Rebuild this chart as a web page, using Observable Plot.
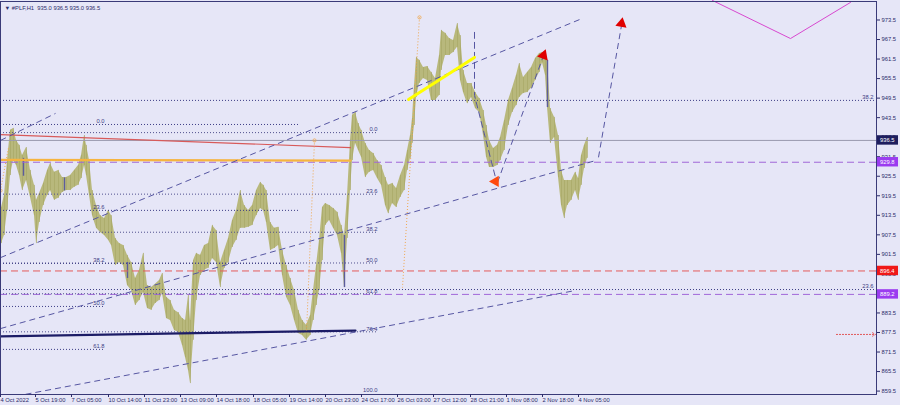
<!DOCTYPE html>
<html><head><meta charset="utf-8">
<script src="https://cdn.jsdelivr.net/npm/d3@7"></script>
<script src="https://cdn.jsdelivr.net/npm/@observablehq/plot@0.6"></script>
<style>
body{margin:0;background:#e6e6f7;}
#chart{width:900px;height:405px;overflow:hidden;}
</style></head><body><div id="chart"></div>
<script>
// ---- data (bar index, high, low) ----
const priceBars = [
[1,915.9,904.8],[4,919.6,907.3],[7,930.3,915.0],[10,939.6,925.7],[13,940.2,930.3],[16,936.5,928.8],[19,935.0,925.7],[22,931.9,921.1],[26,934.3,924.2],[30,927.3,919.0],
[34,922.7,913.4],[36,918.1,904.8],[39,920.2,911.3],[43,923.3,916.5],[47,927.3,919.6],[50,929.4,921.1],[54,926.7,918.1],[58,927.3,918.7],[62,925.1,920.5],[66,925.1,921.1],
[70,925.7,921.1],[74,927.3,922.1],[78,928.8,922.7],[81,931.9,924.8],[84,938.0,928.8],[86,935.0,925.7],[89,930.3,919.6],[92,921.1,913.4],[96,916.5,909.5],[100,913.4,908.2],
[104,912.5,907.3],[108,915.0,905.8],[111,913.4,904.2],[115,906.4,898.1],[119,904.8,899.0],[123,904.2,898.1],[127,901.2,891.9],[131,899.0,890.4],[135,894.1,885.8],[139,896.6,887.3],
[143,901.8,889.8],[147,891.9,884.9],[151,891.3,884.3],[155,892.3,886.4],[159,893.5,887.3],[162,895.6,889.5],[166,888.3,881.8],[170,887.3,881.2],[174,884.3,878.1],[178,883.6,877.5],
[182,881.8,873.5],[185,881.2,869.8],[188,888.9,865.8],[190,881.2,861.8],[193,899.6,875.1],[196,901.8,887.3],[200,901.2,895.0],[204,904.2,896.6],[208,904.8,897.2],[212,910.4,900.2],
[216,908.8,899.0],[220,899.0,891.3],[224,902.7,897.2],[228,906.4,899.0],[232,911.9,903.6],[236,915.0,905.8],[240,921.1,909.5],[244,916.5,909.5],[248,915.0,909.8],[252,916.5,910.4],
[256,921.1,913.4],[260,923.6,915.6],[263,922.7,915.0],[266,921.1,911.3],[270,911.3,902.7],[274,909.5,903.3],[278,909.8,904.2],[282,902.7,895.0],[286,898.1,888.3],[290,894.1,885.8],
[294,890.4,881.2],[298,884.3,877.2],[302,881.2,876.6],[306,879.7,875.1],[310,882.7,876.6],[313,890.4,881.2],[316,898.1,885.8],[319,905.8,890.4],[322,915.9,899.6],[325,917.1,910.4],
[329,916.5,911.9],[333,915.6,909.5],[337,914.4,907.3],[341,910.4,901.8],[344,907.3,891.3],[347,919.6,906.4],[350,936.5,921.1],[352,944.2,930.3],[355,945.1,935.6],[358,941.7,933.4],
[361,939.6,931.3],[365,935.6,925.1],[369,933.4,926.7],[373,932.5,927.3],[377,930.3,924.8],[381,928.8,922.7],[385,925.1,916.5],[388,922.7,914.0],[392,923.3,917.1],[396,921.7,915.9],
[400,925.7,919.0],[404,928.8,921.1],[407,933.4,927.3],[410,938.0,931.0],[412,943.2,935.6],[414,953.4,941.1],[416,962.0,949.7],[419,961.1,954.0],[423,958.9,955.5],[427,959.2,954.9],
[431,957.4,948.8],[435,955.5,948.8],[439,962.6,950.3],[441,970.3,958.0],[445,969.4,962.6],[449,967.8,962.6],[453,967.2,963.5],[457,972.4,965.1],[460,968.7,954.9],[463,958.0,951.2],
[467,954.0,947.8],[471,954.0,949.7],[475,951.2,946.3],[479,949.4,945.1],[483,945.7,938.0],[486,941.1,931.3],[489,936.5,928.2],[493,934.0,928.2],[497,935.0,928.8],[500,937.4,930.3],
[504,942.6,933.4],[508,948.8,941.1],[512,952.5,945.1],[516,956.5,947.2],[519,960.1,949.7],[523,955.8,950.9],[527,957.4,951.2],[531,958.9,952.5],[535,961.7,954.9],[539,963.2,957.4],
[542,963.5,960.4],[545,962.6,956.5],[547,961.1,946.6],[550,946.3,935.6],[554,943.6,937.4],[558,938.0,925.1],[561,927.3,916.5],[564,924.2,912.5],[567,924.2,916.5],[571,924.2,918.1],
[575,926.7,921.1],[578,924.8,918.1],[581,931.9,922.7],[584,935.0,927.9],[587,937.4,931.0]
];
const darkBars = [[23,931.0,925.5],[64,925.0,921.0],[127,899.0,894.1],[344,907.3,891.3],[547,961.1,946.6]];

const xTickBars = [0,35,71,108,144,180,216,253,289,325,361,397,433,470,506,542,578];
const xTickLabels = ["4 Oct 2022","5 Oct 19:00","7 Oct 05:00","10 Oct 14:00","11 Oct 23:00","13 Oct 09:00","14 Oct 18:00","18 Oct 05:00","19 Oct 14:00","20 Oct 23:00","24 Oct 17:00","26 Oct 03:00","27 Oct 12:00","28 Oct 21:00","1 Nov 08:00","2 Nov 18:00","4 Nov 05:00"];
const yTicks = [859.5,865.5,871.5,877.5,883.5,889.5,895.5,901.5,907.5,913.5,919.5,925.5,931.5,937.5,943.5,949.5,955.5,961.5,967.5,973.5];

const header = "\u25BC #PLF,H1  935.0 936.5 935.0 936.5";
const currentPrice = 936.5;
const purpleLevels = [929.8, 889.2];
const redLevels = [896.4];
const tagValues = [936.5, 929.8, 896.4, 889.2];

const rightFibValues = [948.8, 890.7];
const rightFibLabels = ["38.2", "23.6"];

const fibRatios1 = [0, 23.6, 38.2, 50, 61.8];
const fib1Prices = [941.4, 829.6];      // 0% and 100%
const fib1EndBars = [300, 300, 300, 104, 104];
const fibRatios2 = [0, 23.6, 38.2, 50, 61.8, 76.4, 100];
const fib2Prices = [938.9, 858.8];
const fib2EndBar = 377;

const trendBars = [[0,582],[0,595],[25,575],[0,55],[497,543],[598,621]];
const trendPrices = [[900.5,974.0],[878.7,930.3],[858.5,890.4],[936.5,944.8],[923.6,962.6],[931.3,971.8]];
const zigBars = [474,474,496];
const zigPrices = [969.7,950.3,923.9];
const arrowBars = [495, 543, 621];
const arrowPrices = [923.9, 962.6, 972.4];
const yellowBars = [408, 474], yellowPrices = [949.1, 962.0];
const redLineBars = [0, 350], redLinePrices = [938.3, 934.3];
const orangeBars = [0, 350], orangePrices = [930.5, 930.3];
const navyBars = [0, 355], navyPrices = [876.3, 878.1];
const dotOrangeBars = [[419,402],[314,306],[0,8]];
const dotOrangePrices = [[974.3,891.3],[936.5,877.5],[921.1,934.3]];
const magentaBars = [712, 790, 850], magentaPrices = [979.5, 967.8, 978.9];
const signalBars = [836, 875], signalPrice = 876.9;

// ---- derived tables ----
const fib1 = fibRatios1.map((r,i)=>({r, v: fib1Prices[0] - r/100*(fib1Prices[0]-fib1Prices[1]), end: fib1EndBars[i]}));
const fib2 = fibRatios2.map(r=>({r, v: fib2Prices[0] - r/100*(fib2Prices[0]-fib2Prices[1])}));
const trends = trendBars.map((b,i)=>({x1:b[0],x2:b[1],y1:trendPrices[i][0],y2:trendPrices[i][1]}));
const zig = zigBars.map((b,i)=>({x:b,y:zigPrices[i]}));
const dotOr = dotOrangeBars.map((b,i)=>({x1:b[0],x2:b[1],y1:dotOrangePrices[i][0],y2:dotOrangePrices[i][1]}));
const arrows = arrowBars.map((b,i)=>({x:b,y:arrowPrices[i]}));
const xLabel = new Map(xTickBars.map((b,i)=>[b,xTickLabels[i]]));
const fmt = r => r.toFixed(1);

const navy = "#2c2c6a", dash = "#5656a2", dotc = "#3e3e86", fs = 5.8;
const tagColors = ["#1e1e5e","#9b3cf0","#f01818","#9b3cf0"];
const arrowColors = ["#ff4a10","#e00000","#e00000"];
const arrowRot = [-90, 20, 10];

const chart = Plot.plot({
  width: 900, height: 405,
  marginLeft: 0, marginRight: 24, marginTop: 1, marginBottom: 11,
  style: {background: "#e6e6f7", fontFamily: "Liberation Sans, Arial, sans-serif", fontSize: fs + "px", color: navy, overflow: "visible"},
  x: {domain: [0, 876], axis: null},
  y: {domain: [858.45, 979.18], axis: null},
  color: {type: "identity"},
  marks: [
    // price bars
    Plot.areaY(priceBars, {x: d=>d[0], y1: d=>d[2], y2: d=>d[1], fill: "#b8b87c", curve: "linear"}),
    Plot.ruleX(priceBars, {x: d=>d[0], y1: d=>d[2], y2: d=>d[1], stroke: "#a8a866", strokeWidth: 1, strokeOpacity: 0.7}),
    Plot.ruleX(darkBars, {x: d=>d[0], y1: d=>d[2], y2: d=>d[1], stroke: "#5c5c9c", strokeWidth: 1.4}),

    // horizontal levels
    Plot.ruleY([currentPrice], {stroke: "#9a9aae", strokeWidth: 1}),
    Plot.ruleY(purpleLevels, {stroke: "#a066d8", strokeWidth: 1, strokeDasharray: "7,4"}),
    Plot.ruleY(redLevels, {stroke: "#e45a5a", strokeWidth: 1, strokeDasharray: "7,4"}),
    Plot.ruleY(rightFibValues, {stroke: dotc, strokeWidth: 1, strokeDasharray: "1,2"}),
    Plot.text(rightFibValues, {x: ()=>873, y: d=>d, text: (d,i)=>rightFibLabels[i], textAnchor: "end", dy: -3, fill: dotc, fontSize: fs}),

    // fibonacci 1
    Plot.ruleY(fib1, {y: "v", x1: ()=>0, x2: "end", stroke: dotc, strokeDasharray: "1,2"}),
    Plot.text(fib1, {x: ()=>104, y: "v", text: d=>fmt(d.r), textAnchor: "end", dy: -3, fill: dotc, fontSize: fs}),
    // fibonacci 2
    Plot.ruleY(fib2.filter(d=>d.r<100), {y: "v", x1: ()=>0, x2: ()=>fib2EndBar, stroke: "#50508e", strokeDasharray: "1,2"}),
    Plot.text(fib2, {x: ()=>fib2EndBar, y: "v", text: d=>fmt(d.r), textAnchor: "end", dy: -3, fill: dotc, fontSize: fs}),

    // solid objects
    Plot.line(redLineBars.map((b,i)=>({x:b,y:redLinePrices[i]})), {x:"x", y:"y", stroke: "#d85a5a", strokeWidth: 1.2}),
    Plot.line(orangeBars.map((b,i)=>({x:b,y:orangePrices[i]})), {x:"x", y:"y", stroke: "#f6b440", strokeWidth: 2.2}),
    Plot.line(navyBars.map((b,i)=>({x:b,y:navyPrices[i]})), {x:"x", y:"y", stroke: "#1c1c66", strokeWidth: 2.2}),
    Plot.link(dotOr, {x1:"x1", x2:"x2", y1:"y1", y2:"y2", stroke: "#f0a850", strokeWidth: 1, strokeDasharray: "1,2"}),
    Plot.dot(dotOr, {x:"x1", y:"y1", r: 1.6, stroke: "#f0a850", strokeWidth: 0.8}),

    // trend lines
    Plot.link(trends, {x1:"x1", x2:"x2", y1:"y1", y2:"y2", stroke: dash, strokeWidth: 1, strokeDasharray: "6,4"}),
    Plot.line(zig, {x:"x", y:"y", stroke: dash, strokeWidth: 1, strokeDasharray: "6,4"}),
    Plot.line(yellowBars.map((b,i)=>({x:b,y:yellowPrices[i]})), {x:"x", y:"y", stroke: "#ffff00", strokeWidth: 3}),
    Plot.line(magentaBars.map((b,i)=>({x:b,y:magentaPrices[i]})), {x:"x", y:"y", stroke: "#d848d0", strokeWidth: 1}),
    Plot.dot(arrows, {x:"x", y:"y", symbol: "triangle", r: 4.2, fill: (d,i)=>arrowColors[i], rotate: (d,i)=>arrowRot[i]}),
    Plot.arrow([0], {x1: ()=>signalBars[0], x2: ()=>signalBars[1], y1: ()=>signalPrice, y2: ()=>signalPrice, stroke: "#e04848", strokeWidth: 1, strokeDasharray: "1,2", headLength: 5}),

    // frame and axes
    Plot.frame({stroke: "#3a3a78", strokeWidth: 1}),
    Plot.axisY({anchor: "right", ticks: yTicks, tickSize: 3, tickPadding: 2, tickFormat: d=>d.toFixed(1), fontSize: fs, color: navy}),
    Plot.axisX({anchor: "bottom", ticks: xTickBars, tickSize: 3, tickPadding: 0, tickFormat: d=>xLabel.get(d), textAnchor: "start", fontSize: fs, color: navy}),

    // price tags
    Plot.rect(tagValues, {x1: ()=>877, x2: ()=>898, y1: d=>d-1.45, y2: d=>d+1.45, fill: (d,i)=>tagColors[i]}),
    Plot.text(tagValues, {x: ()=>878, y: d=>d, text: d=>d.toFixed(1), fill: "white", textAnchor: "start", dx: 1.5, fontSize: fs}),

    // header
    Plot.text([header], {frameAnchor: "top-left", dx: 4, dy: 4, text: d=>d, fill: navy, fontSize: fs, textAnchor: "start", lineAnchor: "top"})
  ]
});
document.getElementById("chart").appendChild(chart);
</script></body></html>
